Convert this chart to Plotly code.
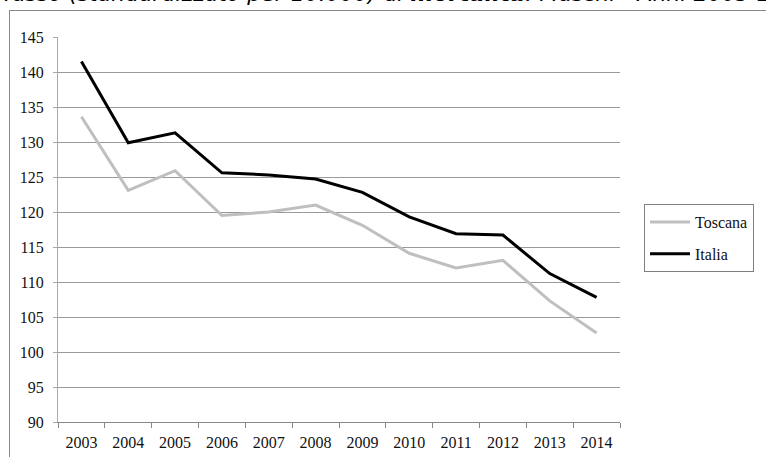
import plotly.graph_objects as go

years = ["2003", "2004", "2005", "2006", "2007", "2008", "2009", "2010", "2011", "2012", "2013", "2014"]
toscana = [133.6, 123.1, 125.9, 119.5, 120.0, 121.0, 118.1, 114.1, 112.0, 113.1, 107.3, 102.7]
italia = [141.5, 129.9, 131.3, 125.6, 125.3, 124.7, 122.8, 119.3, 116.9, 116.7, 111.2, 107.8]
y_ticks = [90, 95, 100, 105, 110, 115, 120, 125, 130, 135, 140, 145]

W, H = 766, 457
L, R, T, B = 58, 146, 37, 35
pw, ph = W - L - R, H - T - B


def px_x(x):
    return (x - L) / pw


def px_y(y):
    return 1 + (T - y) / ph


serif = "Liberation Serif, Times New Roman, serif"

fig = go.Figure()
fig.add_trace(go.Scatter(x=years, y=toscana, mode="lines", name="Toscana",
                         line=dict(color="#bfbfbf", width=3), legendgroup="a"))
fig.add_trace(go.Scatter(x=years, y=italia, mode="lines", name="Italia",
                         line=dict(color="#000000", width=3), legendgroup="b"))

fig.update_layout(
    width=W, height=H,
    margin=dict(l=L, r=R, t=T, b=B, autoexpand=False),
    paper_bgcolor="white", plot_bgcolor="white",
    font=dict(family=serif, size=16, color="#111"),
    showlegend=True,
    legend=dict(x=px_x(644), y=px_y(204), xanchor="left", yanchor="top",
                bordercolor="#808080", borderwidth=1, bgcolor="white",
                font=dict(family=serif, size=16, color="#111"),
                traceorder="grouped", tracegroupgap=8, itemwidth=40),
    xaxis=dict(type="category", tickson="boundaries", ticks="outside", ticklen=5,
               tickcolor="#888", showline=True, linecolor="#888", linewidth=1,
               showgrid=False, tickfont=dict(family=serif, size=16, color="#111"),
               range=[-0.5, 11.5], fixedrange=True, ticklabelstandoff=6, automargin=False),
    yaxis=dict(range=[90, 145], tickvals=y_ticks, ticks="outside", ticklen=4,
               tickcolor="#aaa", showline=True, linecolor="#aaa", linewidth=1,
               showgrid=True, gridcolor="#9a9a9a", gridwidth=1, zeroline=False,
               tickfont=dict(family=serif, size=16, color="#111"), ticklabelstandoff=6,
               automargin=False, fixedrange=True),
    shapes=[
        dict(type="line", xref="paper", yref="paper", x0=px_x(9), x1=px_x(770),
             y0=px_y(10.5), y1=px_y(10.5), line=dict(color="#888", width=1)),
        dict(type="line", xref="paper", yref="paper", x0=px_x(9.5), x1=px_x(9.5),
             y0=px_y(10.5), y1=px_y(470), line=dict(color="#888", width=1)),
    ],
    annotations=[
        dict(text="<i>Tasso (standardizzato per 10.000) di <b>mortalità</b>: Maschi - Anni 2003-2014</i>",
             xref="paper", yref="paper", x=px_x(-1), y=px_y(8), xanchor="left", yanchor="bottom",
             showarrow=False, font=dict(family="DejaVu Sans, Verdana, sans-serif", size=22, color="#000")),
    ],
)

fig.write_html("out.html", config={"displayModeBar": False},
               post_script="document.body.style.margin='0';document.body.style.overflow='hidden';")
